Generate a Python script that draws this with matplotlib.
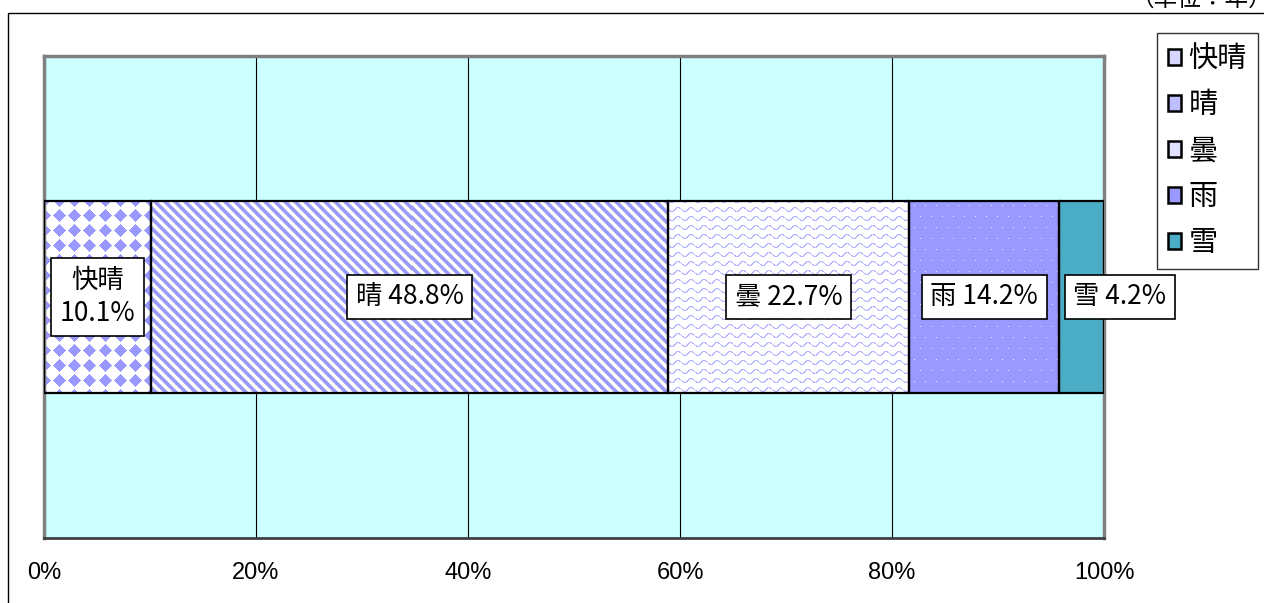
import numpy as np
import matplotlib
matplotlib.use("Agg")
import matplotlib.pyplot as plt
from matplotlib.patches import Patch, Rectangle

plt.rcParams['font.family'] = ['Noto Sans CJK JP', 'DejaVu Sans']

# weather share (%)
weather = ['快晴', '晴', '曇', '雨', '雪']
share = [10.1, 48.8, 22.7, 14.2, 4.2]
xtick_vals = [0, 20, 40, 60, 80, 100]
xtick_labels = ['0%', '20%', '40%', '60%', '80%', '100%']
unit_note = '（単位：年）'

W, H = 1264, 603
BLUE = np.array([0.6, 0.6, 1.0])
TEAL = '#4BACC6'
NUM_FONT = ['Liberation Sans Narrow', 'Noto Sans CJK JP', 'DejaVu Sans']


def texture(kind, h, w):
    ii, jj = np.mgrid[0:h, 0:w].astype(float)
    img = np.ones((h, w, 3))
    if kind == 'diamond':
        s = 15.0
        dx = (jj + s / 2) % s - s / 2
        dy = (ii + s / 2) % s - s / 2
        img[np.abs(dx) + np.abs(dy) <= 6.5] = BLUE
    elif kind == 'stripe':
        p = (jj - ii) % 10
        img[(p >= 1) & (p < 5)] = BLUE
        img[(p == 0) | (p == 5)] = [0.78, 0.78, 0.9]
    elif kind == 'wave':
        yy = (ii - 2.0 * np.sin(2 * np.pi * jj / 13.0)) % 9
        img[np.abs(yy - 4.5) > 3.7] = [0.72, 0.72, 1.0]
    elif kind == 'dots':
        img[:] = BLUE
        row = ii // 11
        dot = (ii % 11 == 5) & ((jj + (row % 2) * 5) % 11 == 5)
        img[dot] = [0.92, 0.92, 1.0]
    return img


fig = plt.figure(figsize=(W / 100, H / 100), dpi=100)
ax = fig.add_axes([44 / W, (H - 538) / H, 1060 / W, 482 / H])
ax.set_facecolor('#CCFFFF')
ax.set_xlim(0, 100)
ax.set_ylim(0, 1)

for x in xtick_vals[1:-1]:
    ax.axvline(x, color='black', lw=0.8, zorder=0.5)

lefts = np.concatenate([[0], np.cumsum(share)[:-1]])
kinds = ['diamond', 'stripe', 'wave', 'dots', None]
fills = ['white', 'white', 'white', BLUE, TEAL]
bar_y, bar_h = 0.5, 0.4

ax.barh(bar_y, share, left=lefts, height=bar_h, color=fills, zorder=2)

for left, val, kind in zip(lefts, share, kinds):
    if kind is None:
        continue
    (px0, py0) = ax.transData.transform((left, bar_y - bar_h / 2))
    (px1, py1) = ax.transData.transform((left + val, bar_y + bar_h / 2))
    w = max(int(round(px1 - px0)), 1)
    h = max(int(round(py1 - py0)), 1)
    ax.imshow(texture(kind, h, w), extent=(left, left + val, bar_y - bar_h / 2, bar_y + bar_h / 2),
              aspect='auto', interpolation='nearest', zorder=2.5)

ax.barh(bar_y, share, left=lefts, height=bar_h, fill=False, edgecolor='black', lw=1.6, zorder=3)

label_shift = [0, 0, 0, 0, 3.6]
for k, (name, left, val, dx) in enumerate(zip(weather, lefts, share, label_shift)):
    sep = '\n' if k == 0 else ' '
    ax.text(left + val / 2 + dx, bar_y, f'{name}{sep}{val:.1f}%', ha='center', va='center',
            fontsize=19, family=NUM_FONT, linespacing=1.3, zorder=4,
            bbox=dict(boxstyle='square,pad=0.32', fc='white', ec='black', lw=1.2))

ax.set_xticks(xtick_vals)
ax.set_xticklabels(xtick_labels, family=['Liberation Sans', 'DejaVu Sans'], fontsize=17)
ax.set_yticks([])
ax.tick_params(axis='x', length=0, pad=17)

for side in ['left', 'top', 'right']:
    ax.spines[side].set_color('#808080')
    ax.spines[side].set_linewidth(2.5)
ax.spines['bottom'].set_color('#404040')
ax.spines['bottom'].set_linewidth(2)

# outer chart frame
fig.patches.append(Rectangle((8 / W, -0.1), 1.0, 1 - 13 / H + 0.1, transform=fig.transFigure,
                             fill=False, ec='black', lw=1))
fig.text(1272 / W, (H - 11) / H, unit_note, ha='right', va='bottom', fontsize=17)

handle_colors = ['#D6D6FF', '#BDBDFF', '#E0E0FF', '#9999FF', TEAL]
handles = [Patch(facecolor=c, edgecolor='black', lw=1.8) for c in handle_colors]
leg = fig.legend(handles, weather, loc='upper left', bbox_to_anchor=(1157 / W, 1 - 33 / H),
                 fontsize=21, frameon=True, fancybox=False, borderaxespad=0,
                 handlelength=0.45, handleheight=0.45, handletextpad=0.25,
                 labelspacing=0.55, borderpad=0.38)
leg.get_frame().set_edgecolor('black')
leg.get_frame().set_linewidth(1)

fig.savefig('out.png', dpi=100)
